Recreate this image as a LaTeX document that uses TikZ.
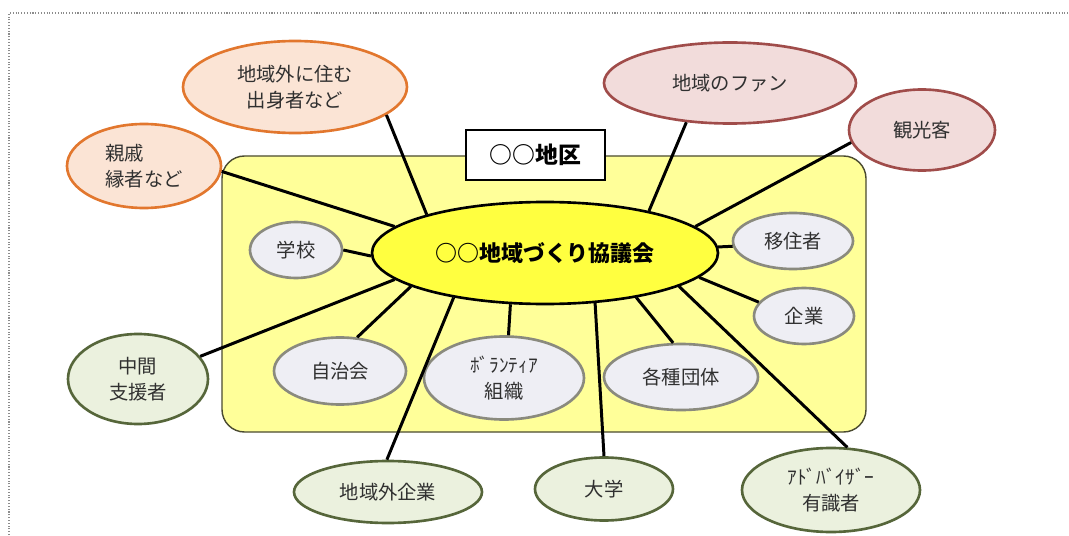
\documentclass[tikz,border=0pt]{standalone}
\usepackage{fontspec}
\setmainfont{Noto Sans CJK JP}
\usepackage{xcolor}
\usetikzlibrary{shapes.geometric}

\definecolor{framegray}{HTML}{8C8C8C}
\definecolor{areafill}{HTML}{FFFF99}
\definecolor{arealine}{HTML}{4A4A30}
\definecolor{hubfill}{HTML}{FFFF40}
\definecolor{labeltext}{HTML}{303030}
\definecolor{innerfill}{HTML}{EEEEF4}
\definecolor{innerline}{HTML}{8A8A7E}
\definecolor{kinfill}{HTML}{FBE4D5}
\definecolor{kinline}{HTML}{E2772E}
\definecolor{fanfill}{HTML}{F2DCDB}
\definecolor{fanline}{HTML}{A04C4A}
\definecolor{supfill}{HTML}{EBF1DE}
\definecolor{supline}{HTML}{56663A}

\begin{document}
\begin{tikzpicture}[
  every node/.style={font=\fontsize{11}{15}\selectfont, text=labeltext, align=center},
  bubble/.style={ellipse, line width=1.5pt, inner sep=0pt},
  inner/.style={bubble, draw=innerline, fill=innerfill},
  kin/.style={bubble, draw=kinline, fill=kinfill},
  fan/.style={bubble, draw=fanline, fill=fanfill},
  support/.style={bubble, draw=supline, fill=supfill},
  link/.style={line width=1.7pt, black},
]
\useasboundingbox (0,0) rectangle (21.38,10.7);
\draw[densely dotted, framegray, line width=0.6pt] (0.18,0) -- (0.18,10.44) -- (21.38,10.44);

\node[draw=arealine, fill=areafill, line width=0.8pt, rounded corners=0.45cm,
      minimum width=12.88cm, minimum height=5.52cm] (district) at (10.88,4.82) {};
\node[draw=black, fill=white, line width=1.6pt, minimum width=2.78cm, minimum height=1cm,
      text=black, font=\bfseries\fontsize{13}{15}\selectfont] (districtname) at (10.71,7.6) {○○地区};

\node[ellipse, draw=black, fill=hubfill, line width=1.5pt, inner sep=0pt,
      minimum width=6.92cm, minimum height=2.04cm,
      text=black, font=\bfseries\fontsize{12.5}{14}\selectfont] (council) at (10.9,5.64) {○○地域づくり協議会};

\node[inner, minimum width=1.84cm, minimum height=1.12cm] (school) at (5.92,5.7) {学校};
\node[inner, minimum width=2.64cm, minimum height=1.34cm] (jichikai) at (6.8,3.28) {自治会};
\node[inner, minimum width=3.2cm, minimum height=1.66cm] (volunteer) at (10.08,3.14) {ﾎﾞﾗﾝﾃｨｱ\\組織};
\node[inner, minimum width=3.08cm, minimum height=1.32cm] (groups) at (13.62,3.16) {各種団体};
\node[inner, minimum width=2.4cm, minimum height=1.12cm] (settler) at (15.86,5.88) {移住者};
\node[inner, minimum width=2cm, minimum height=1.12cm] (firm) at (16.08,4.38) {企業};

\node[kin, minimum width=4.48cm, minimum height=1.84cm] (hometown) at (5.9,8.96) {地域外に住む\\出身者など};
\node[kin, minimum width=3.08cm, minimum height=1.68cm, align=left] (relative) at (2.88,7.38) {親戚\\縁者など};

\node[fan, minimum width=5.04cm, minimum height=1.62cm] (fans) at (14.6,9.04) {地域のファン};
\node[fan, minimum width=2.92cm, minimum height=1.62cm] (tourist) at (18.44,8.1) {観光客};

\node[support, minimum width=2.8cm, minimum height=1.8cm] (midsupport) at (2.76,3.12) {中間\\支援者};
\node[support, minimum width=3.76cm, minimum height=1.24cm] (outfirm) at (7.76,0.86) {地域外企業};
\node[support, minimum width=2.76cm, minimum height=1.26cm] (univ) at (12.08,0.92) {大学};
\node[support, minimum width=3.56cm, minimum height=1.68cm] (advisor) at (16.62,0.9) {ｱﾄﾞﾊﾞｲｻﾞｰ\\有識者};

\draw[link] (council.162) -- (hometown.343);
\draw[link] (council.170) -- (relative.356);
\draw[link] (council.181) -- (school.0);
\draw[link] (council.190) -- (midsupport.20);
\draw[link] (council.194) -- (jichikai.63);
\draw[link] (council.206) -- (outfirm.92);
\draw[link] (council.236) -- (volunteer.84);
\draw[link] (council.315) -- (univ.90);
\draw[link] (council.334) -- (groups.103);
\draw[link] (council.346) -- (advisor.69);
\draw[link] (council.351) -- (firm.163);
\draw[link] (council.2) -- (settler.185);
\draw[link] (council.10) -- (tourist.190);
\draw[link] (council.22) -- (fans.222);

\end{tikzpicture}
\end{document}
